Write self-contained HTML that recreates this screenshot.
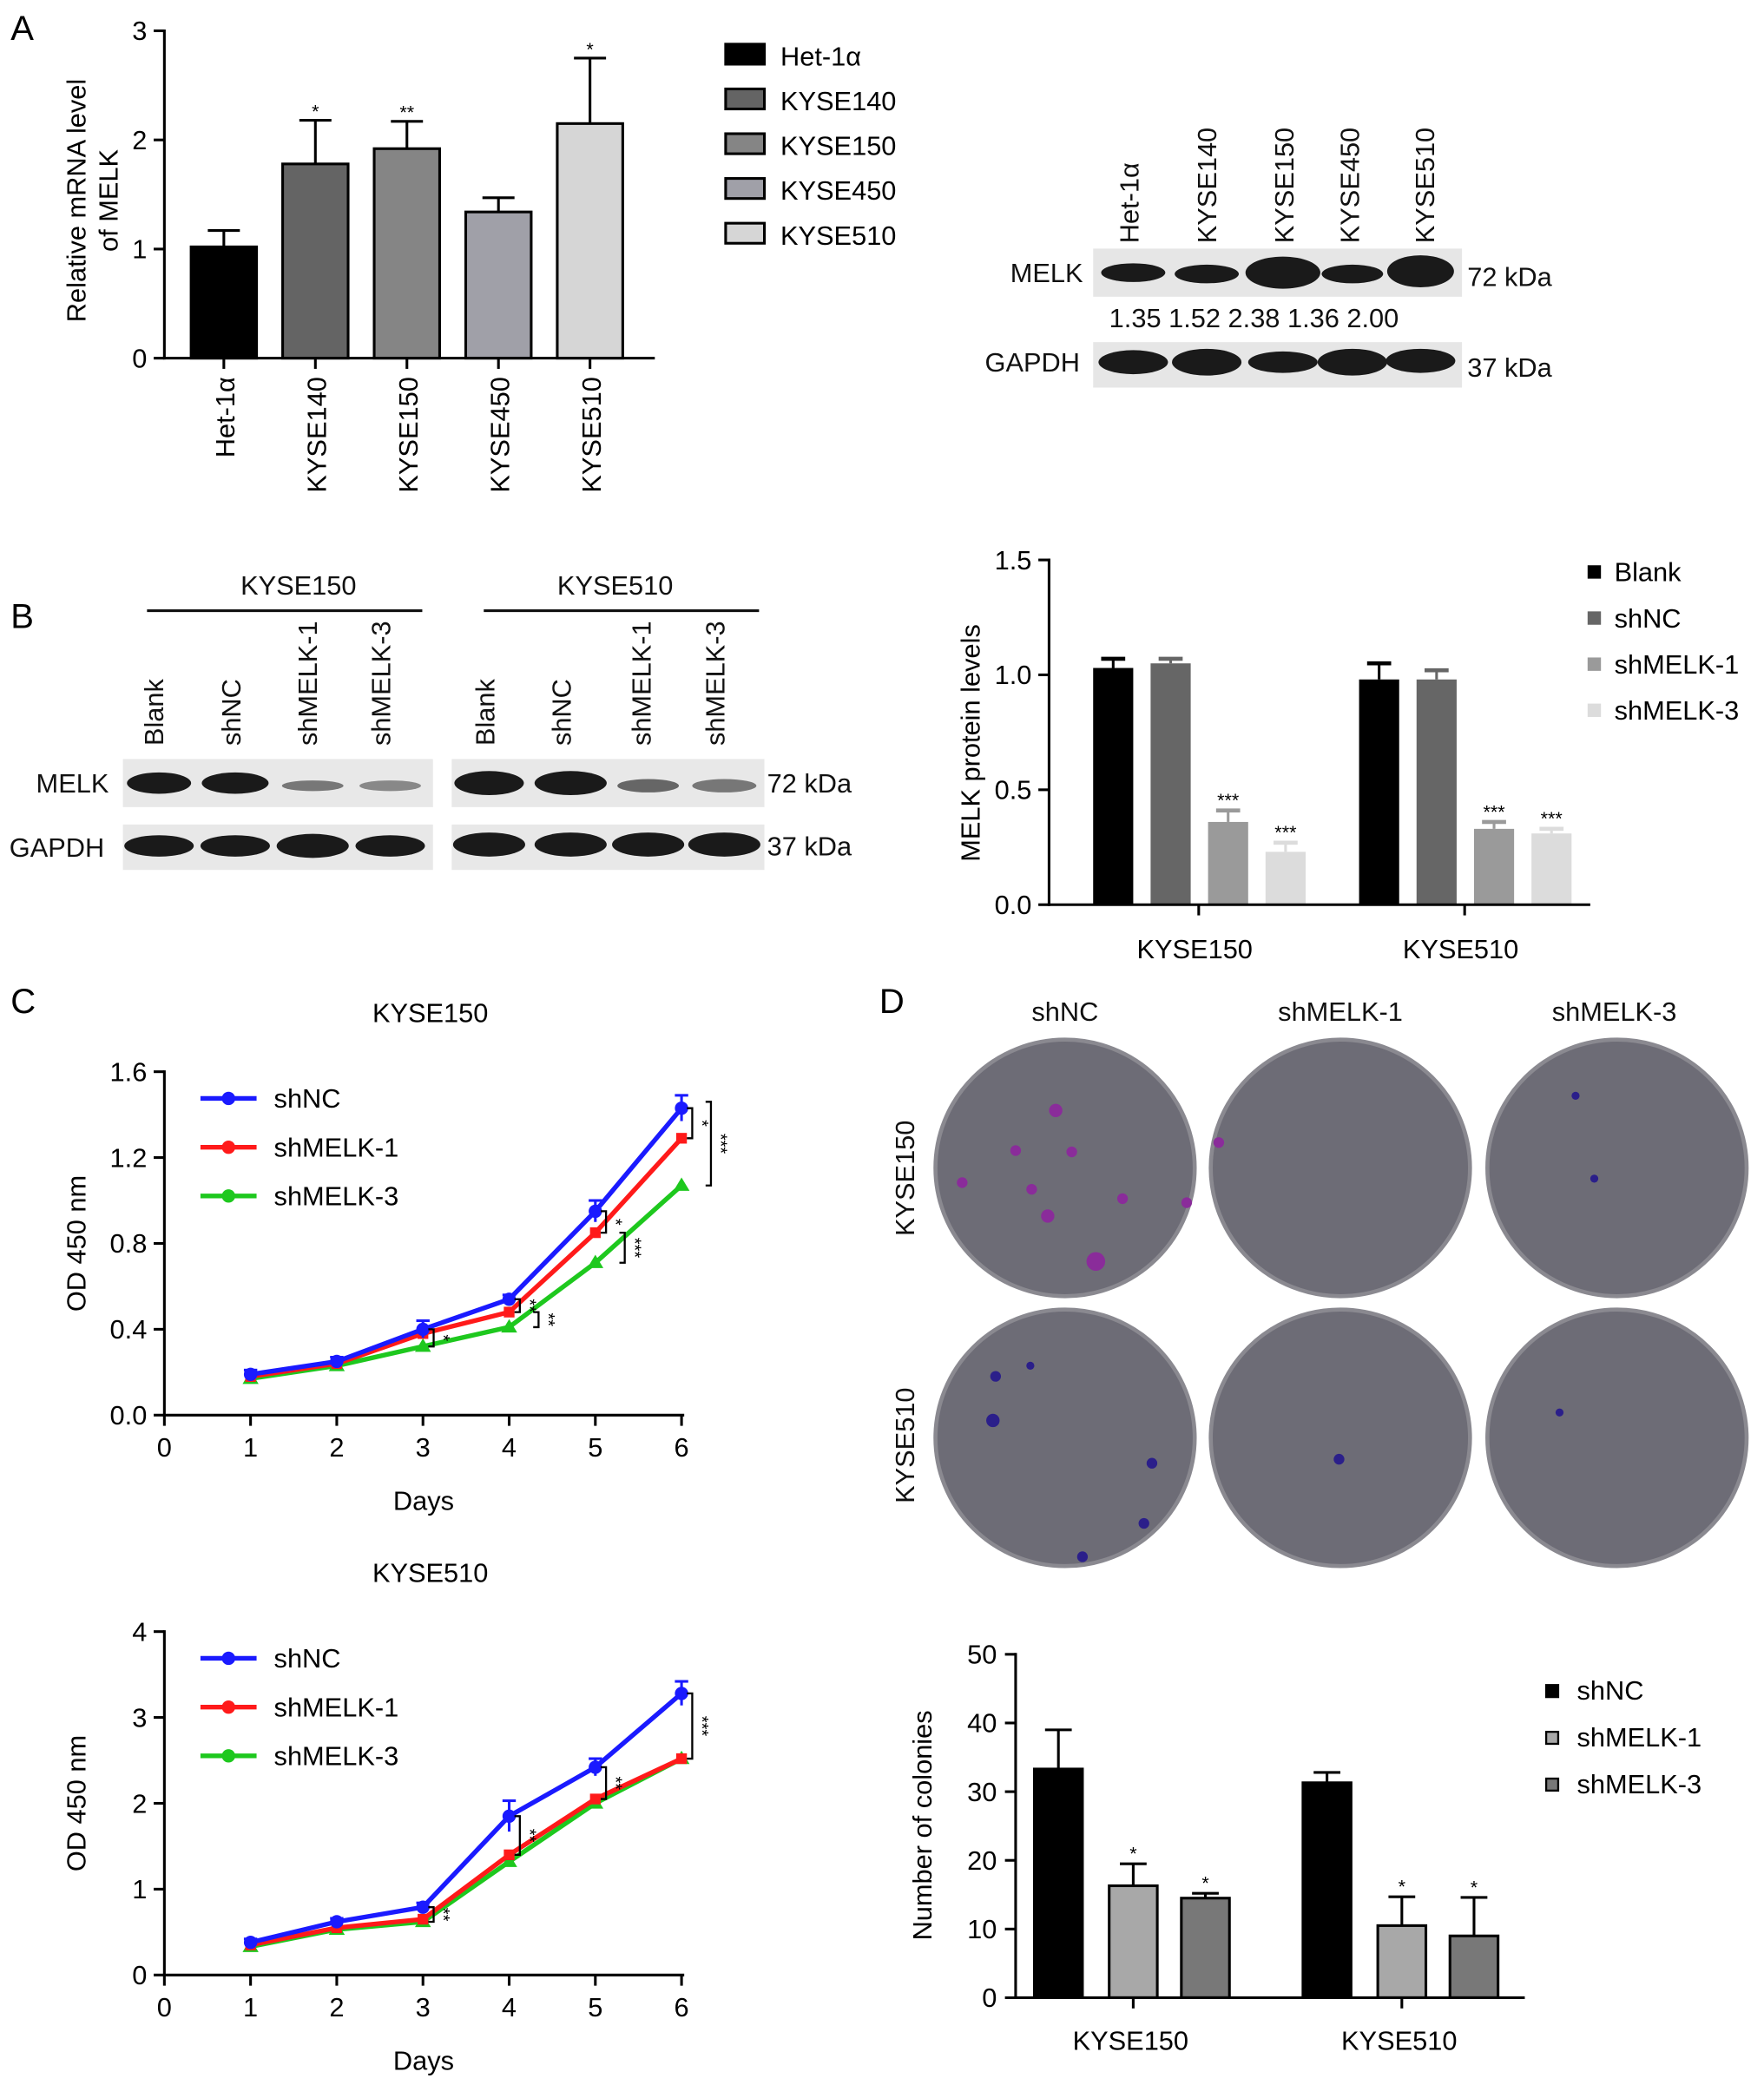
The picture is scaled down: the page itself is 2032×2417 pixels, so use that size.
<!DOCTYPE html>
<html><head><meta charset="utf-8"><style>
html,body{margin:0;padding:0;background:#fff}
svg{display:block;font-family:"Liberation Sans",Arial,sans-serif}
</style></head><body>
<svg id="fig" width="2032" height="2417" viewBox="0 0 1320 1570" xmlns="http://www.w3.org/2000/svg">
<g id="static">
<text x="8" y="30" font-size="26">A</text>
<text x="8" y="470" font-size="26">B</text>
<text x="8" y="758" font-size="26">C</text>
<text x="658" y="758" font-size="26">D</text>

<!-- western blot A -->
<g>
<g font-size="20" fill="#111">
<text transform="translate(852,182) rotate(-90)">Het-1α</text>
<text transform="translate(910,182) rotate(-90)">KYSE140</text>
<text transform="translate(968,182) rotate(-90)">KYSE150</text>
<text transform="translate(1017,182) rotate(-90)">KYSE450</text>
<text transform="translate(1073,182) rotate(-90)">KYSE510</text>
<text x="756" y="211">MELK</text>
<text x="1098" y="214">72 kDa</text>
<text x="737" y="278">GAPDH</text>
<text x="1098" y="282">37 kDa</text>
<text x="830" y="245">1.35 1.52 2.38 1.36 2.00</text>
</g>
<rect x="818" y="186" width="276" height="36" fill="#e6e6e6"/>
<rect x="818" y="256" width="276" height="34" fill="#e6e6e6"/>
<g fill="#1a1a1a">
<ellipse cx="848" cy="204" rx="24" ry="7"/><ellipse cx="903" cy="205" rx="24" ry="7"/><ellipse cx="960" cy="204" rx="28" ry="12"/><ellipse cx="1012" cy="205" rx="23" ry="7"/><ellipse cx="1063" cy="203" rx="25" ry="12"/>
<ellipse cx="848" cy="271" rx="26" ry="9"/><ellipse cx="903" cy="271" rx="26" ry="10"/><ellipse cx="960" cy="271" rx="26" ry="8"/><ellipse cx="1012" cy="271" rx="26" ry="10"/><ellipse cx="1063" cy="270" rx="26" ry="9"/>
</g></g>

<!-- western blot B -->
<g>
<g font-size="20" fill="#111">
<text x="180" y="445">KYSE150</text><text x="417" y="445">KYSE510</text>
<text transform="translate(122,558) rotate(-90)">Blank</text>
<text transform="translate(180,558) rotate(-90)">shNC</text>
<text transform="translate(237,558) rotate(-90)">shMELK-1</text>
<text transform="translate(292,558) rotate(-90)">shMELK-3</text>
<text transform="translate(370,558) rotate(-90)">Blank</text>
<text transform="translate(427,558) rotate(-90)">shNC</text>
<text transform="translate(487,558) rotate(-90)">shMELK-1</text>
<text transform="translate(542,558) rotate(-90)">shMELK-3</text>
<text x="27" y="593">MELK</text><text x="7" y="641">GAPDH</text>
<text x="574" y="593">72 kDa</text><text x="574" y="640">37 kDa</text>
</g>
<line x1="110" y1="457" x2="316" y2="457" stroke="#111" stroke-width="2"/>
<line x1="362" y1="457" x2="568" y2="457" stroke="#111" stroke-width="2"/>
<rect x="92" y="568" width="232" height="36" fill="#e8e8e8"/><rect x="338" y="568" width="234" height="36" fill="#e8e8e8"/>
<rect x="92" y="617" width="232" height="34" fill="#e8e8e8"/><rect x="338" y="617" width="234" height="34" fill="#e8e8e8"/>
<g fill="#1a1a1a">
<ellipse cx="119" cy="586" rx="24" ry="8"/><ellipse cx="176" cy="586" rx="25" ry="8"/><ellipse cx="234" cy="588" rx="23" ry="4" fill="#777"/><ellipse cx="292" cy="588" rx="23" ry="4" fill="#888"/>
<ellipse cx="366" cy="586" rx="26" ry="9"/><ellipse cx="427" cy="586" rx="27" ry="9"/><ellipse cx="485" cy="588" rx="23" ry="5" fill="#666"/><ellipse cx="542" cy="588" rx="24" ry="5" fill="#777"/>
<ellipse cx="119" cy="633" rx="26" ry="8"/><ellipse cx="176" cy="633" rx="26" ry="8"/><ellipse cx="234" cy="633" rx="27" ry="9"/><ellipse cx="292" cy="633" rx="26" ry="8"/>
<ellipse cx="366" cy="632" rx="27" ry="9"/><ellipse cx="427" cy="632" rx="27" ry="9"/><ellipse cx="485" cy="632" rx="27" ry="9"/><ellipse cx="542" cy="632" rx="27" ry="9"/>
</g></g>

<!-- plates -->
<g>
<g font-size="20" fill="#111">
<text x="797" y="764" text-anchor="middle">shNC</text>
<text x="1003" y="764" text-anchor="middle">shMELK-1</text>
<text x="1208" y="764" text-anchor="middle">shMELK-3</text>
<text transform="translate(684,925) rotate(-90)">KYSE150</text>
<text transform="translate(684,1125) rotate(-90)">KYSE510</text>
</g>
<g fill="#6d6c76" stroke="#8a8990" stroke-width="3">
<ellipse cx="797" cy="874" rx="97" ry="96"/><ellipse cx="1003" cy="874" rx="97" ry="96"/><ellipse cx="1210" cy="874" rx="97" ry="96"/>
<ellipse cx="797" cy="1076" rx="97" ry="96"/><ellipse cx="1003" cy="1076" rx="97" ry="96"/><ellipse cx="1210" cy="1076" rx="97" ry="96"/>
</g>
<g fill="#8a2c9a"><circle cx="790" cy="831" r="5"/><circle cx="760" cy="861" r="4"/><circle cx="802" cy="862" r="4"/><circle cx="820" cy="944" r="7"/><circle cx="772" cy="890" r="4"/><circle cx="840" cy="897" r="4"/><circle cx="720" cy="885" r="4"/><circle cx="784" cy="910" r="5"/><circle cx="888" cy="900" r="4"/><circle cx="912" cy="855" r="4"/></g>
<g fill="#2b1f8a"><circle cx="1002" cy="1092" r="4"/><circle cx="1167" cy="1057" r="3"/><circle cx="745" cy="1030" r="4"/><circle cx="743" cy="1063" r="5"/><circle cx="771" cy="1022" r="3"/><circle cx="862" cy="1095" r="4"/><circle cx="856" cy="1140" r="4"/><circle cx="810" cy="1165" r="4"/><circle cx="1179" cy="820" r="3"/><circle cx="1193" cy="882" r="3"/></g>
</g>
</g>
<g id="charts"></g>
</svg>
<script>
// Panel A
const aCats=["Het-1α","KYSE140","KYSE150","KYSE450","KYSE510"];
const aVals=[1.02,1.78,1.92,1.34,2.15];
const aErr=[1.17,2.18,2.17,1.47,2.75];
const aSig=["","*","**","","*"];
const aTicks=[0,1,2,3];
// Panel B
const bGroups=["KYSE150","KYSE510"];
const bSeries=["Blank","shNC","shMELK-1","shMELK-3"];
const bVals=[[1.03,1.05,0.36,0.23],[0.98,0.98,0.33,0.31]];
const bErr=[[1.07,1.07,0.41,0.27],[1.05,1.02,0.36,0.33]];
const bSig=["","","***","***"];
const bTicks=[0,0.5,1.0,1.5];
// Panel C
const cDays=[1,2,3,4,5,6];
const cSeries=["shNC","shMELK-1","shMELK-3"];
const c1NC=[0.19,0.25,0.40,0.54,0.95,1.43];
const c1M1=[0.18,0.24,0.38,0.48,0.85,1.29];
const c1M3=[0.17,0.23,0.32,0.41,0.71,1.07];
const c1Err=[0.02,0.02,0.04,0.02,0.05,0.06];
const c1Ticks=[0,0.4,0.8,1.2,1.6];
const c2NC=[0.38,0.62,0.79,1.85,2.42,3.28];
const c2M1=[0.35,0.55,0.65,1.40,2.05,2.52];
const c2M3=[0.33,0.53,0.62,1.32,2.00,2.52];
const c2Err=[0.04,0.04,0.05,0.18,0.1,0.14];
const c2Ticks=[0,1,2,3,4];
const xTicks=[0,1,2,3,4,5,6];
// Panel D
const dGroups=["KYSE150","KYSE510"];
const dSeries=["shNC","shMELK-1","shMELK-3"];
const dVals=[[33.3,16.3,14.5],[31.3,10.5,9.0]];
const dErr=[[39,19.5,15.2],[32.8,14.7,14.6]];
const dSig=["","*","*"];
const dTicks=[0,10,20,30,40,50];

const NS="http://www.w3.org/2000/svg";
const root=document.getElementById("charts");
function el(t,a,p,txt){const e=document.createElementNS(NS,t);for(const k in a)e.setAttribute(k,a[k]);if(txt!==undefined)e.textContent=txt;(p||root).appendChild(e);return e;}
function lin(d0,d1,r0,r1){return v=>r0+(v-d0)/(d1-d0)*(r1-r0);}

// ---- Panel A
(function(){
const g=el("g",{});


const y=lin(0,3,268,23);const x0=143,step=68.5,w=49;
const cols=["#000","#646464","#858585","#a0a0a8","#d6d6d6"];
aVals.forEach((v,i)=>{const x=x0+i*step;
 const ey=y(aErr[i]);
 el("line",{x1:x+w/2,x2:x+w/2,y1:ey,y2:y(v),stroke:"#000","stroke-width":2},g);
 el("line",{x1:x+w/2-12,x2:x+w/2+12,y1:ey,y2:ey,stroke:"#000","stroke-width":2},g);
 const r=el("rect",{x:x,y:y(v),width:w,height:y(0)-y(v),fill:cols[i],stroke:"#000","stroke-width":2},g);
 
 
 if(aSig[i])el("text",{x:x+w/2,y:ey-2,"font-size":14,"text-anchor":"middle"},g,aSig[i]);
 el("line",{x1:x+w/2,x2:x+w/2,y1:268,y2:276,stroke:"#000","stroke-width":2},g);
 el("text",{transform:`translate(${x+w/2+8},282) rotate(-90)`,"font-size":20,"text-anchor":"end"},g,aCats[i]);
});
el("line",{x1:123,x2:123,y1:22,y2:269,stroke:"#000","stroke-width":2},g);
el("line",{x1:122,x2:490,y1:268,y2:268,stroke:"#000","stroke-width":2},g);
aTicks.forEach(t=>{el("line",{x1:115,x2:123,y1:y(t),y2:y(t),stroke:"#000","stroke-width":2},g);
 el("text",{x:110,y:y(t)+7,"font-size":20,"text-anchor":"end"},g,t);});
el("text",{transform:"translate(64,150) rotate(-90)","font-size":20,"text-anchor":"middle"},g,"Relative mRNA level");
el("text",{transform:"translate(88,150) rotate(-90)","font-size":20,"text-anchor":"middle"},g,"of MELK");
const lg=el("g",{},g);


aCats.forEach((c,i)=>{const yy=33+i*33.5;el("rect",{x:543,y:yy,width:29,height:15,fill:cols[i],stroke:"#000","stroke-width":2},lg);
 el("text",{x:584,y:yy+16,"font-size":20},lg,c);});
})();

// ---- Panel B
(function(){
const g=el("g",{});


const y=lin(0,1.5,677,419);const cols=["#000","#666","#9a9a9a","#dcdcdc"];
const gx=[818,1017];
bVals.forEach((vs,gi)=>{vs.forEach((v,i)=>{const x=gx[gi]+i*43,w=30;
 const ey=y(bErr[gi][i]);
 el("line",{x1:x+w/2,x2:x+w/2,y1:ey,y2:y(v),stroke:cols[i],"stroke-width":2},g);
 el("line",{x1:x+w/2-9,x2:x+w/2+9,y1:ey,y2:ey,stroke:cols[i],"stroke-width":3},g);
 const r=el("rect",{x:x,y:y(v),width:w,height:y(0)-y(v),fill:cols[i]},g);
 
 
 if(bSig[i])el("text",{x:x+w/2,y:ey-3,"font-size":14,"text-anchor":"middle"},g,bSig[i]);
});
 el("line",{x1:gx[gi]+79,x2:gx[gi]+79,y1:677,y2:685,stroke:"#000","stroke-width":2},g);
 el("text",{x:gx[gi]+76,y:717,"font-size":20,"text-anchor":"middle"},g,bGroups[gi]);
});
el("line",{x1:785,x2:785,y1:418,y2:678,stroke:"#000","stroke-width":2},g);
el("line",{x1:784,x2:1190,y1:677,y2:677,stroke:"#000","stroke-width":2},g);
bTicks.forEach(t=>{el("line",{x1:777,x2:785,y1:y(t),y2:y(t),stroke:"#000","stroke-width":2},g);
 el("text",{x:772,y:y(t)+7,"font-size":20,"text-anchor":"end"},g,t.toFixed(1));});
el("text",{transform:"translate(733,556) rotate(-90)","font-size":20,"text-anchor":"middle"},g,"MELK protein levels");
bSeries.forEach((s,i)=>{const yy=428+i*34.5;el("rect",{x:1188,y:yy-5,width:10,height:10,fill:cols[i]},g);
 el("text",{x:1208,y:yy+7,"font-size":20},g,s);});
})();

// ---- Panel C
function lineChart(name,title,top,bottom,yMax,ticks,series,err,dec,brackets){
const g=el("g",{});


const x=lin(0,6,123,510),y=lin(0,yMax,bottom,top);
const cols=["#1a1aff","#ff1a1a","#1ec81e"];
el("text",{x:322,y:top-37,"font-size":20,"text-anchor":"middle"},g,title);
el("line",{x1:123,x2:123,y1:top-1,y2:bottom+1,stroke:"#000","stroke-width":2},g);
el("line",{x1:122,x2:512,y1:bottom,y2:bottom,stroke:"#000","stroke-width":2},g);
ticks.forEach(t=>{el("line",{x1:115,x2:123,y1:y(t),y2:y(t),stroke:"#000","stroke-width":2},g);
 el("text",{x:110,y:y(t)+7,"font-size":20,"text-anchor":"end"},g,t.toFixed(dec));});
xTicks.forEach(t=>{el("line",{x1:x(t),x2:x(t),y1:bottom,y2:bottom+8,stroke:"#000","stroke-width":2},g);
 el("text",{x:x(t),y:bottom+31,"font-size":20,"text-anchor":"middle"},g,t);});
el("text",{x:317,y:bottom+71,"font-size":20,"text-anchor":"middle"},g,"Days");
el("text",{transform:`translate(64,${(top+bottom)/2}) rotate(-90)`,"font-size":20,"text-anchor":"middle"},g,"OD 450 nm");
for(let s=2;s>=0;s--){const vals=series[s];
 const pts=cDays.map((d,i)=>x(d)+","+y(vals[i])).join(" ");
 const pl=el("polyline",{points:pts,fill:"none",stroke:cols[s],"stroke-width":3.5},g);
 
 
 cDays.forEach((d,i)=>{const cx=x(d),cy=y(vals[i]);
  if(s===0){el("line",{x1:cx,x2:cx,y1:y(vals[i]+err[i]),y2:y(vals[i]-err[i]),stroke:cols[s],"stroke-width":2},g);
   el("line",{x1:cx-5,x2:cx+5,y1:y(vals[i]+err[i]),y2:y(vals[i]+err[i]),stroke:cols[s],"stroke-width":2},g);}
  const m=s===0?el("circle",{cx:cx,cy:cy,r:5,fill:cols[s]},g):
   s===1?el("rect",{x:cx-4,y:cy-4,width:8,height:8,fill:cols[s]},g):
   el("polygon",{points:`${cx},${cy-6} ${cx-6},${cy+4} ${cx+6},${cy+4}`,fill:cols[s]},g);
  
  
 });}
brackets.forEach(b=>{const xx=x(b[0])+8+b[3];
 el("path",{d:`M${xx-4},${y(b[1])} H${xx} V${y(b[2])} H${xx-4}`,fill:"none",stroke:"#000","stroke-width":1.5},g);
 el("text",{transform:`translate(${xx+3},${(y(b[1])+y(b[2]))/2}) rotate(90)`,"font-size":13,"text-anchor":"middle"},g,b[4]);});
const lgY=top+20;
cSeries.forEach((s,i)=>{const yy=lgY+i*36.5;
 el("line",{x1:150,x2:192,y1:yy,y2:yy,stroke:cols[i],"stroke-width":3.5},g);
 el("circle",{cx:171,cy:yy,r:5,fill:cols[i]},g);
 el("text",{x:205,y:yy+7,"font-size":20},g,s);});
}
lineChart("growth-chart-kyse150","KYSE150",802,1059,1.6,c1Ticks,[c1NC,c1M1,c1M3],c1Err,1,
 [[6,c1NC[5],c1M1[5],0,"*"],[6,c1NC[5]+0.03,c1M3[5],14,"***"],[5,c1NC[4],c1M1[4],0,"*"],[5,c1M1[4],c1M3[4],14,"***"],[4,c1NC[3],c1M1[3],0,"**"],[4,c1M1[3],c1M3[3],14,"**"],[3,c1NC[2],c1M3[2],0,"*"]]);
lineChart("growth-chart-kyse510","KYSE510",1221,1478,4,c2Ticks,[c2NC,c2M1,c2M3],c2Err,0,
 [[6,c2NC[5],c2M1[5],0,"***"],[5,c2NC[4],c2M1[4],0,"**"],[4,c2NC[3],c2M1[3],0,"**"],[3,c2NC[2],c2M3[2],0,"**"]]);

// ---- Panel D chart
(function(){
const g=el("g",{});


const y=lin(0,50,1495,1238);const cols=["#000","#a8a8a8","#787878"];
const gx=[[774,830,884],[975,1031,1085]];
dVals.forEach((vs,gi)=>{vs.forEach((v,i)=>{const x=gx[gi][i],w=36;
 const ey=y(dErr[gi][i]);
 el("line",{x1:x+w/2,x2:x+w/2,y1:ey,y2:y(v),stroke:"#000","stroke-width":2},g);
 el("line",{x1:x+w/2-10,x2:x+w/2+10,y1:ey,y2:ey,stroke:"#000","stroke-width":2},g);
 const r=el("rect",{x:x,y:y(v),width:w,height:y(0)-y(v),fill:cols[i],stroke:"#000","stroke-width":2},g);
 
 
 if(dSig[i])el("text",{x:x+w/2,y:ey-3,"font-size":14,"text-anchor":"middle"},g,dSig[i]);
});
 const cx=gx[gi][1]+18;
 el("line",{x1:cx,x2:cx,y1:1495,y2:1503,stroke:"#000","stroke-width":2},g);
 el("text",{x:cx-2,y:1534,"font-size":20,"text-anchor":"middle"},g,dGroups[gi]);
});
el("line",{x1:760,x2:760,y1:1237,y2:1496,stroke:"#000","stroke-width":2},g);
el("line",{x1:759,x2:1141,y1:1495,y2:1495,stroke:"#000","stroke-width":2},g);
dTicks.forEach(t=>{el("line",{x1:752,x2:760,y1:y(t),y2:y(t),stroke:"#000","stroke-width":2},g);
 el("text",{x:746,y:y(t)+7,"font-size":20,"text-anchor":"end"},g,t);});
el("text",{transform:"translate(697,1366) rotate(-90)","font-size":20,"text-anchor":"middle"},g,"Number of colonies");
dSeries.forEach((s,i)=>{const yy=1265+i*35;el("rect",{x:1157,y:yy-4,width:9,height:9,fill:cols[i],stroke:"#000","stroke-width":1.5},g);
 el("text",{x:1180,y:yy+7,"font-size":20},g,s);});
})();
</script>
</body></html>
